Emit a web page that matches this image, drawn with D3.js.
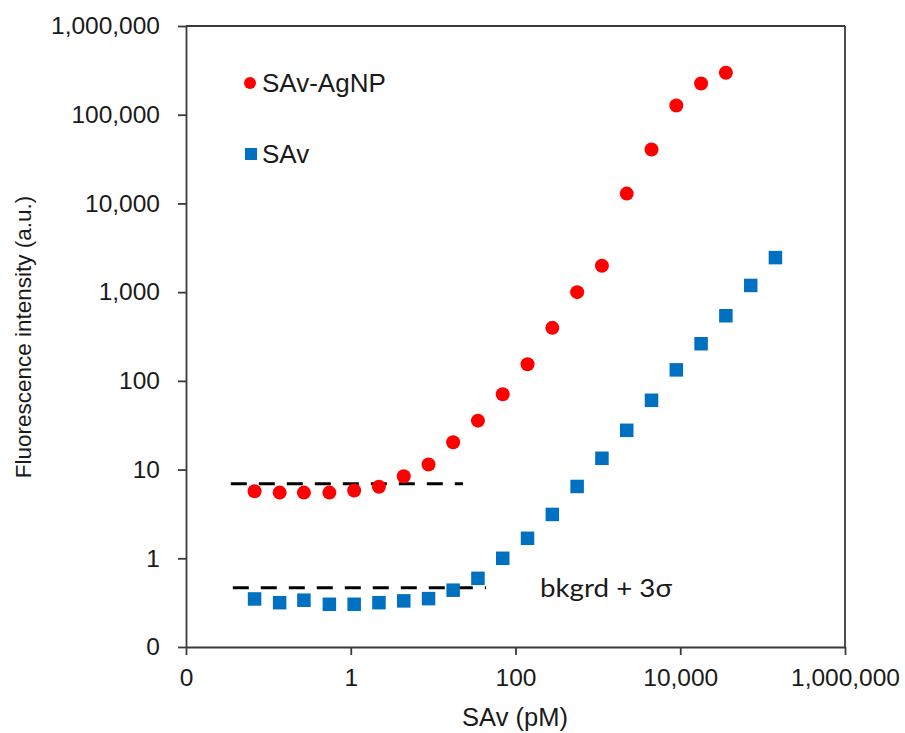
<!DOCTYPE html>
<html>
<head>
<meta charset="utf-8">
<script src="https://cdn.jsdelivr.net/npm/d3@7/dist/d3.min.js"></script>
<style>
  html, body { margin: 0; padding: 0; background: #fff; }
  svg { display: block; }
  .tick text { font-family: "Liberation Sans", Arial, sans-serif; fill: #1a1a1a; }
</style>
</head>
<body>
<svg id="chart" width="905" height="733"></svg>
<script>
// SAv concentrations (pM), two-fold dilution series
const concAgNP = [0.068, 0.137, 0.27, 0.55, 1.1, 2.2, 4.4, 8.8, 17.5, 35, 70, 140, 280, 560, 1120, 2240, 4480, 8960, 17900, 35800];
const concSAv = [0.068, 0.137, 0.27, 0.55, 1.1, 2.2, 4.4, 8.8, 17.5, 35, 70, 140, 280, 560, 1120, 2240, 4480, 8960, 17900, 35800, 71700, 143000];

// Fluorescence intensity (a.u.)
const intensityAgNP = [5.7, 5.5, 5.5, 5.5, 5.8, 6.4, 8.4, 11.4, 20.3, 35.6, 70.6, 154, 396, 1000, 1980, 12900, 40500, 127000, 225000, 297000];
const intensitySAv = [0.348, 0.316, 0.337, 0.303, 0.303, 0.316, 0.331, 0.351, 0.437, 0.594, 1.0, 1.68, 3.12, 6.45, 13.4, 27.7, 60.4, 133, 262, 542, 1190, 2450];

// Background + 3 sigma thresholds and the span of each dashed guide
const thresholdAgNP = { level: 6.9, from: 0.035, to: 23 };
const thresholdSAv = { level: 0.465, from: 0.037, to: 44 };

const xTicks = [0.01, 1, 100, 10000, 1000000];
const yTicks = [0.1, 1, 10, 100, 1000, 10000, 100000, 1000000];

const seriesNames = ["SAv-AgNP", "SAv"];
const colors = { agnp: "#FF0000", sav: "#0070C0" };

const svg = d3.select("#chart");
const plot = { left: 186, right: 845, top: 26, bottom: 647 };

const x = d3.scaleLog().domain([0.01, 1e6]).range([plot.left, plot.right]);
const y = d3.scaleLog().domain([0.1, 1e6]).range([plot.bottom, plot.top]);

const fmt = v => v < 1 ? "0" : d3.format(",")(v);
const axisColor = "#3a3a3a";
const sans = "Liberation Sans, Arial, sans-serif";

// frame (top and right edges)
svg.append("line").attr("x1", plot.left).attr("x2", plot.right).attr("y1", plot.top).attr("y2", plot.top)
  .attr("stroke", axisColor).attr("stroke-width", 1.8);
svg.append("line").attr("x1", plot.right).attr("x2", plot.right).attr("y1", plot.top).attr("y2", plot.bottom)
  .attr("stroke", axisColor).attr("stroke-width", 1.8);

// x axis
const gx = svg.append("g").attr("transform", `translate(0,${plot.bottom})`)
  .call(d3.axisBottom(x).tickValues(xTicks).tickFormat(fmt).tickSize(8).tickSizeOuter(0).tickPadding(14));
// y axis
const gy = svg.append("g").attr("transform", `translate(${plot.left},0)`)
  .call(d3.axisLeft(y).tickValues(yTicks).tickFormat(fmt).tickSize(8).tickSizeOuter(0).tickPadding(18));

[gx, gy].forEach(g => {
  g.select(".domain").attr("stroke", axisColor).attr("stroke-width", 1.8);
  g.selectAll(".tick line").attr("stroke", axisColor).attr("stroke-width", 1.8);
  g.selectAll(".tick text").attr("font-size", 24.5);
});

// axis titles
svg.append("text").attr("x", 515).attr("y", 726).attr("text-anchor", "middle")
  .attr("font-family", sans).attr("font-size", 25.5).attr("fill", "#1a1a1a")
  .text("SAv (pM)");
svg.append("text").attr("transform", "translate(31,337) rotate(-90)").attr("text-anchor", "middle")
  .attr("font-family", sans).attr("font-size", 22.5).attr("fill", "#1a1a1a")
  .text("Fluorescence intensity (a.u.)");

// threshold dashed lines
[thresholdAgNP, thresholdSAv].forEach(t => {
  svg.append("line")
    .attr("x1", x(t.from)).attr("x2", x(t.to))
    .attr("y1", y(t.level)).attr("y2", y(t.level))
    .attr("stroke", "#000").attr("stroke-width", 3)
    .attr("stroke-dasharray", "16,12");
});

// SAv squares
const sq = 13.5;
svg.append("g").selectAll("rect")
  .data(concSAv.map((c, i) => [c, intensitySAv[i]]))
  .join("rect")
  .attr("x", d => x(d[0]) - sq / 2).attr("y", d => y(d[1]) - sq / 2)
  .attr("width", sq).attr("height", sq)
  .attr("fill", colors.sav);

// SAv-AgNP circles
svg.append("g").selectAll("circle")
  .data(concAgNP.map((c, i) => [c, intensityAgNP[i]]))
  .join("circle")
  .attr("cx", d => x(d[0])).attr("cy", d => y(d[1]))
  .attr("r", 7)
  .attr("fill", colors.agnp);

// legend
const lg = svg.append("g");
lg.append("circle").attr("cx", 250).attr("cy", 83).attr("r", 6).attr("fill", colors.agnp);
lg.append("rect").attr("x", 245).attr("y", 148).attr("width", 12).attr("height", 12).attr("fill", colors.sav);
lg.append("text").attr("x", 262).attr("y", 92).attr("font-family", sans)
  .attr("font-size", 26).attr("fill", "#1a1a1a").text(seriesNames[0]);
lg.append("text").attr("x", 262).attr("y", 163).attr("font-family", sans)
  .attr("font-size", 26).attr("fill", "#1a1a1a").text(seriesNames[1]);

// threshold annotation
svg.append("text").attr("x", 540).attr("y", 597).attr("font-family", "Lato, sans-serif")
  .attr("font-size", 25).attr("textLength", 132).attr("lengthAdjust", "spacingAndGlyphs")
  .attr("fill", "#1a1a1a").text("bkgrd + 3σ");
</script>
</body>
</html>
